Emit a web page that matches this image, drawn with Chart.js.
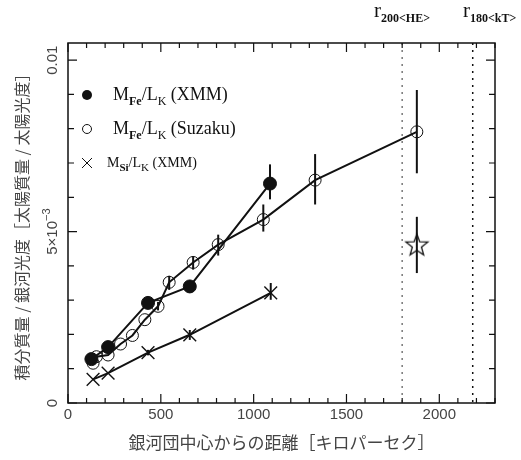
<!DOCTYPE html>
<html>
<head>
<meta charset="utf-8">
<script src="https://cdn.jsdelivr.net/npm/chart.js@4.4.0/dist/chart.umd.min.js"></script>
<style>body{margin:0;background:#fff}</style>
</head>
<body>
<canvas id="massChart" width="521" height="460"></canvas>
<script>
// XMM, Fe mass / K-band luminosity (filled circles)
const xmmFeR = [126, 216, 431, 656, 1088];
const xmmFeV = [0.00128, 0.00163, 0.00292, 0.00340, 0.00640];
const xmmFeLo = [null, null, null, 0.00322, 0.00594];
const xmmFeHi = [null, null, null, 0.00358, 0.00696];

// Suzaku, Fe mass / K-band luminosity (open circles)
const suzFeR = [135, 153, 216, 283, 347, 414, 485, 545, 674, 809, 1052, 1331, 1879];
const suzFeV = [0.00116, 0.00135, 0.00140, 0.00172, 0.00197, 0.00243, 0.00282, 0.00352, 0.00410, 0.00462, 0.00535, 0.00650, 0.00791];
const suzFeLo = [null, null, null, null, null, null, 0.00270, 0.00330, 0.00389, 0.00430, 0.00500, 0.00579, 0.00670];
const suzFeHi = [null, null, null, null, null, null, 0.00295, 0.00371, 0.00428, 0.00491, 0.00579, 0.00726, 0.00913];

// XMM, Si mass / K-band luminosity (crosses)
const xmmSiR = [135, 216, 431, 656, 1092];
const xmmSiV = [0.00069, 0.00087, 0.00147, 0.00199, 0.00321];
const xmmSiLo = [null, null, 0.00139, 0.00184, 0.00301];
const xmmSiHi = [null, null, 0.00155, 0.00213, 0.00350];

// star point
const starR = [1879];
const starV = [0.00462];
const starLo = [0.00379];
const starHi = [0.00543];

// r200 and r180 radii
const radiusLines = [1800, 2180];
// y tick labels: [value in units of 0.001, mantissa, exponent]
const yTickLabels = [[0, "0", ""], [5, "5×10", "−3"], [10, "0.01", ""]];

const toPts = (xs, ys) => xs.map((x, i) => ({ x: x, y: ys[i] }));

const starImg = document.createElement("canvas");
starImg.width = 26; starImg.height = 26;
(() => {
    const s = starImg.getContext("2d");
    s.strokeStyle = "#111";
    s.lineWidth = 1.3;
    s.beginPath();
    for (let i = 0; i < 10; i++) {
        const r = i % 2 === 0 ? 11.5 : 4.8;
        const a = -Math.PI / 2 + i * Math.PI / 5;
        const px = 13 + r * Math.cos(a), py = 14 + r * Math.sin(a);
        i === 0 ? s.moveTo(px, py) : s.lineTo(px, py);
    }
    s.closePath();
    s.stroke();
})();

const errSets = [
    [xmmFeR, xmmFeLo, xmmFeHi],
    [suzFeR, suzFeLo, suzFeHi],
    [xmmSiR, xmmSiLo, xmmSiHi],
    [starR, starLo, starHi],
];

function drawRich(ctx, x, y, parts) {
    for (const p of parts) {
        ctx.font = p.font;
        ctx.fillText(p.t, x, y + (p.dy || 0));
        x += ctx.measureText(p.t).width;
    }
    return x;
}

const decor = {
    id: "decor",
    beforeDatasetsDraw(chart) {
        const ctx = chart.ctx;
        const xs = chart.scales.x, ys = chart.scales.y;
        const area = chart.chartArea;
        ctx.save();
        // dotted radius lines
        ctx.lineWidth = 1.5;
        ctx.setLineDash([2, 5]);
        radiusLines.forEach((r, i) => {
            ctx.strokeStyle = i === 0 ? "#777" : "#111";
            const px = xs.getPixelForValue(r);
            ctx.beginPath();
            ctx.moveTo(px, area.top);
            ctx.lineTo(px, area.bottom);
            ctx.stroke();
        });
        ctx.setLineDash([]);
        // error bars
        ctx.strokeStyle = "#111";
        ctx.lineWidth = 2;
        errSets.forEach(([rs, lo, hi]) => {
            rs.forEach((r, i) => {
                if (lo[i] == null) return;
                const px = xs.getPixelForValue(r);
                ctx.beginPath();
                ctx.moveTo(px, ys.getPixelForValue(lo[i]));
                ctx.lineTo(px, ys.getPixelForValue(hi[i]));
                ctx.stroke();
            });
        });
        ctx.restore();
    },
    afterDraw(chart) {
        const ctx = chart.ctx;
        const xs = chart.scales.x, ys = chart.scales.y;
        const area = chart.chartArea;
        ctx.save();
        ctx.strokeStyle = "#111";
        ctx.lineWidth = 1.5;
        ctx.strokeRect(area.left, area.top, area.right - area.left, area.bottom - area.top);
        ctx.lineWidth = 1.2;
        for (let v = 0; v <= 2300; v += 100) {
            const px = xs.getPixelForValue(v);
            const len = v % 500 === 0 ? 9 : 5;
            ctx.beginPath();
            ctx.moveTo(px, area.bottom); ctx.lineTo(px, area.bottom - len);
            ctx.moveTo(px, area.top); ctx.lineTo(px, area.top + len);
            ctx.stroke();
        }
        for (let k = 0; k <= 10; k++) {
            const py = ys.getPixelForValue(k * 0.001);
            const len = k % 5 === 0 ? 9 : 6;
            ctx.beginPath();
            ctx.moveTo(area.left, py); ctx.lineTo(area.left + len, py);
            ctx.moveTo(area.right, py); ctx.lineTo(area.right - len, py);
            ctx.stroke();
        }
        // y tick labels, rotated
        ctx.fillStyle = "#444";
        ctx.textAlign = "left";
        ctx.textBaseline = "alphabetic";
        const tf = "15px 'Liberation Sans', sans-serif";
        const ef = "11px 'Liberation Sans', sans-serif";
        yTickLabels.forEach(([k, m, e]) => {
            const py = ys.getPixelForValue(k * 0.001);
            ctx.font = tf;
            let w = ctx.measureText(m).width;
            ctx.font = ef;
            w += ctx.measureText(e).width;
            ctx.save();
            ctx.translate(area.left - 11, py);
            ctx.rotate(-Math.PI / 2);
            drawRich(ctx, -w / 2, 0, [{ t: m, font: tf }, { t: e, font: ef, dy: -7 }]);
            ctx.restore();
        });
        // legend
        ctx.fillStyle = "#111";
        ctx.beginPath();
        ctx.arc(87, 95, 5, 0, Math.PI * 2);
        ctx.fill();
        ctx.lineWidth = 1;
        ctx.beginPath();
        ctx.arc(87, 129, 4.5, 0, Math.PI * 2);
        ctx.stroke();
        ctx.beginPath();
        ctx.moveTo(82, 158); ctx.lineTo(92, 168);
        ctx.moveTo(92, 158); ctx.lineTo(82, 168);
        ctx.stroke();
        const big = "18px 'Liberation Serif', serif";
        const sub = "bold 12px 'Liberation Serif', serif";
        const subK = "12px 'Liberation Serif', serif";
        drawRich(ctx, 113, 100, [
            { t: "M", font: big }, { t: "Fe", font: sub, dy: 5 },
            { t: "/L", font: big }, { t: "K", font: subK, dy: 5 },
            { t: " (XMM)", font: big }]);
        drawRich(ctx, 113, 134, [
            { t: "M", font: big }, { t: "Fe", font: sub, dy: 5 },
            { t: "/L", font: big }, { t: "K", font: subK, dy: 5 },
            { t: " (Suzaku)", font: big }]);
        const small = "14px 'Liberation Serif', serif";
        drawRich(ctx, 107, 167, [
            { t: "M", font: small }, { t: "Si", font: "bold 11px 'Liberation Serif', serif", dy: 4 },
            { t: "/L", font: small }, { t: "K", font: "11px 'Liberation Serif', serif", dy: 4 },
            { t: " (XMM)", font: small }]);
        // radius labels above the plot
        const rf = "21px 'Liberation Serif', serif";
        const sf = "bold 12px 'Liberation Serif', serif";
        drawRich(ctx, 374, 17, [{ t: "r", font: rf }, { t: "200<HE>", font: sf, dy: 5 }]);
        drawRich(ctx, 463, 17, [{ t: "r", font: rf }, { t: "180<kT>", font: sf, dy: 5 }]);
        ctx.restore();
    }
};

const ctx = document.getElementById("massChart");
new Chart(ctx, {
    type: "scatter",
    data: {
        datasets: [
            {
                label: "MSi/LK (XMM)",
                data: toPts(xmmSiR, xmmSiV),
                showLine: true,
                borderColor: "#111",
                borderWidth: 2,
                pointStyle: "crossRot",
                pointRadius: 9,
                pointBorderWidth: 1.4,
                pointBorderColor: "#111",
            },
            {
                label: "MFe/LK (Suzaku)",
                data: toPts(suzFeR, suzFeV),
                showLine: true,
                borderColor: "#111",
                borderWidth: 2,
                pointStyle: "circle",
                pointRadius: 6,
                pointBorderWidth: 1,
                pointBorderColor: "#111",
                pointBackgroundColor: "rgba(255,255,255,0)",
            },
            {
                label: "MFe/LK (XMM)",
                data: toPts(xmmFeR, xmmFeV),
                showLine: true,
                borderColor: "#111",
                borderWidth: 2,
                pointStyle: "circle",
                pointRadius: 6.5,
                pointBorderWidth: 1,
                pointBorderColor: "#111",
                pointBackgroundColor: "#111",
            },
            {
                label: "star",
                data: toPts(starR, starV),
                showLine: false,
                pointStyle: starImg,
            },
        ],
    },
    options: {
        responsive: false,
        animation: false,
        layout: { padding: { left: 0, right: 26, top: 43, bottom: 0 } },
        plugins: { legend: { display: false }, tooltip: { enabled: false } },
        scales: {
            x: {
                type: "linear",
                min: 0,
                max: 2300,
                afterFit: (s) => { s.height = 57; },
                border: { display: false },
                grid: { display: false, drawTicks: false },
                ticks: {
                    stepSize: 100,
                    autoSkip: false,
                    maxRotation: 0,
                    padding: 3,
                    color: "#444",
                    font: { family: "'Liberation Sans', sans-serif", size: 15 },
                    callback: (v) => (v % 500 === 0 ? String(v) : ""),
                },
                title: {
                    display: true,
                    text: "銀河団中心からの距離［キロパーセク］",
                    color: "#444",
                    font: { family: "'Noto Sans CJK JP', sans-serif", size: 17 },
                    padding: { top: 0, bottom: 7 },
                },
            },
            y: {
                min: 0,
                max: 0.0105,
                afterFit: (s) => { s.width = 68; },
                border: { display: false },
                grid: { display: false, drawTicks: false },
                ticks: { display: false, stepSize: 0.001 },
                title: {
                    display: true,
                    text: "積分質量 / 銀河光度［太陽質量 / 太陽光度］",
                    color: "#444",
                    font: { family: "'Noto Sans CJK JP', sans-serif", size: 16 },
                    padding: { top: 12, bottom: 0 },
                },
            },
        },
    },
    plugins: [decor],
});
</script>
</body>
</html>
